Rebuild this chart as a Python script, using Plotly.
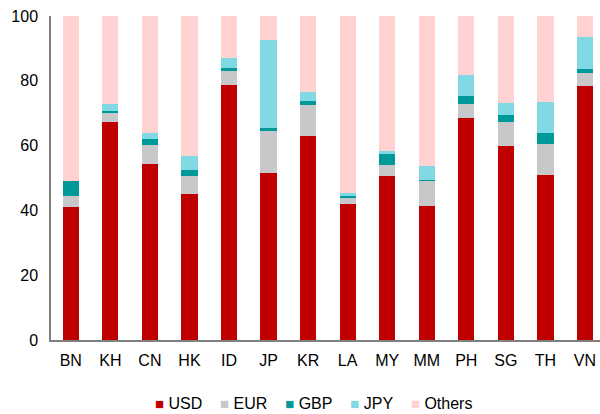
import plotly.graph_objects as go

categories = ["BN", "KH", "CN", "HK", "ID", "JP", "KR", "LA", "MY", "MM", "PH", "SG", "TH", "VN"]
usd = [41.1, 67.3, 54.2, 45.0, 78.8, 51.6, 62.9, 42.1, 50.6, 41.5, 68.4, 60.0, 50.8, 78.4]
eur = [3.5, 2.9, 6.1, 5.6, 4.1, 13.0, 9.7, 1.9, 3.5, 7.8, 4.5, 7.3, 9.8, 4.1]
gbp = [4.4, 0.5, 1.8, 2.0, 0.9, 0.9, 1.2, 0.4, 3.3, 0.2, 2.4, 2.0, 3.2, 1.0]
jpy = [0.0, 2.1, 1.9, 4.3, 3.3, 27.2, 2.7, 0.9, 0.8, 4.1, 6.4, 3.8, 9.7, 10.0]
others = [round(100 - a - b - c - d, 1) for a, b, c, d in zip(usd, eur, gbp, jpy)]

series = [
    ("USD", usd, "#C00000"),
    ("EUR", eur, "#C8C8CA"),
    ("GBP", gbp, "#009999"),
    ("JPY", jpy, "#80D8E2"),
    ("Others", others, "#FFD1D1"),
]

fig = go.Figure()
for name, vals, color in series:
    fig.add_trace(go.Bar(
        x=categories, y=vals, name=name,
        marker=dict(color=color, line=dict(width=0)),
        width=0.41, showlegend=False,
    ))

# compact legend as a single text line built from the series
legend_text = "&nbsp;&nbsp;&nbsp;&nbsp;".join(
    f"<span style='color:{c};font-size:15px'>■</span> {n}" for n, _, c in series
)
fig.add_annotation(
    text=legend_text, xref="paper", yref="paper", x=0.479, y=-0.195,
    xanchor="center", yanchor="middle", showarrow=False,
    font=dict(size=16, color="#000000"),
)

fig.update_layout(
    barmode="stack",
    width=600, height=414,
    margin=dict(l=51, r=0, t=16, b=74),
    paper_bgcolor="white", plot_bgcolor="white",
    font=dict(family="Liberation Sans, Arial, sans-serif", size=16, color="#000000"),
    xaxis=dict(range=[-0.5, 13.38], showgrid=False, showline=True, linecolor="#808080",
               linewidth=1.5, ticks="", tickfont=dict(size=16), automargin=False,
               ticklabelstandoff=5),
    yaxis=dict(range=[0, 100], dtick=20, showgrid=False, showline=True, linecolor="#808080",
               linewidth=1.5, ticks="", tickfont=dict(size=16), zeroline=False,
               automargin=False, ticklabelstandoff=8),
)

fig.write_html("out.html", config={"displayModeBar": False},
               post_script="document.body.style.margin='0';")
